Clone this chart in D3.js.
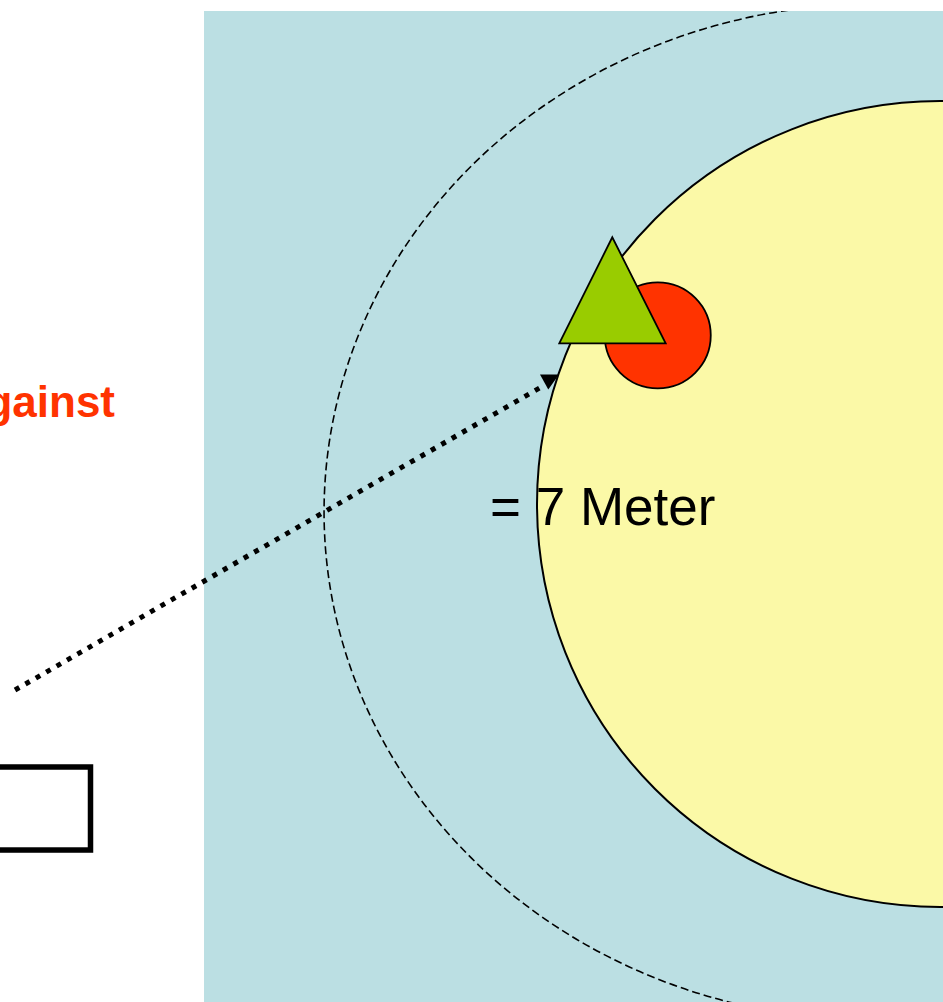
<!DOCTYPE html>
<html>
<head>
<meta charset="utf-8">
<script src="https://cdn.jsdelivr.net/npm/d3@7"></script>
<style>
  body { margin: 0; background: #fff; }
  svg { display: block; }
  text { font-family: "Liberation Sans", Arial, sans-serif; }
</style>
</head>
<body>
<div id="chart"></div>
<script>
// all geometry in meters, origin = centre of the yellow zone (radius 7 m)
const zoneArea = [{x0: -12.784, x1: 0.052, y0: -8.563, y1: 8.650}];
const zones = [
  {name: "outer", cx: -1.146, cy: 0.139, rx: 9.553, ry: 8.824},
  {name: "inner", cx: 0, cy: 0, rx: 7, ry: 7}
];
const targets = [{name: "red", cx: -4.903, cy: -2.930, r: 0.921}];
const triangle = [[-5.692, -4.633], [-6.613, -2.791], [-4.765, -2.791]];
const arrowLine = [[-16.067, 3.231], [-6.896, -2.050]];
const arrowHead = [[-6.948, -2.249], [-6.618, -2.249], [-6.804, -1.989]];
const box = [{x0: -18.065, x1: -14.756, y0: 4.568, y1: 6.010}];
const labels = [
  {text: "gainst", x: -14.330, y: -1.511, cls: "warn"},
  {text: "= 7 Meter", x: -7.816, y: 0.365, cls: "dist"}
];

const width = 943, height = 1002;
const x = d3.scaleLinear().domain([-16.328, 0]).range([0, 940]);
const y = d3.scaleLinear().domain([-8.754, 0]).range([0, 504]);
const k = x(1) - x(0); // px per meter

const svg = d3.select("#chart").append("svg")
    .attr("width", width)
    .attr("height", height);

svg.append("defs").append("clipPath")
    .attr("id", "areaClip")
  .append("rect")
    .attr("x", x(zoneArea[0].x0))
    .attr("y", y(zoneArea[0].y0))
    .attr("width", x(zoneArea[0].x1) - x(zoneArea[0].x0))
    .attr("height", y(zoneArea[0].y1) - y(zoneArea[0].y0));

  // blue background area
svg.selectAll("rect.area")
  .data(zoneArea)
  .join("rect")
    .attr("class", "area")
    .attr("x", d => x(d.x0))
    .attr("y", d => y(d.y0))
    .attr("width", d => x(d.x1) - x(d.x0))
    .attr("height", d => y(d.y1) - y(d.y0))
    .attr("fill", "#bbdfe3");

const zoneG = svg.append("g").attr("clip-path", "url(#areaClip)");

zoneG.selectAll("ellipse.zone")
  .data(zones)
  .join("ellipse")
    .attr("class", "zone")
    .attr("cx", d => x(d.cx))
    .attr("cy", d => y(d.cy))
    .attr("rx", d => d.rx * k)
    .attr("ry", d => d.ry * k)
    .attr("fill", d => d.name === "inner" ? "#fbf9a7" : "none")
    .attr("stroke", "#000")
    .attr("stroke-width", d => d.name === "inner" ? 2 : 1.6)
    .attr("stroke-dasharray", d => d.name === "outer" ? "8,4" : null);

  // distance label
svg.selectAll("text.dist")
  .data(labels.filter(d => d.cls === "dist"))
  .join("text")
    .attr("class", "dist")
    .attr("x", d => x(d.x))
    .attr("y", d => y(d.y))
    .attr("font-size", "53px")
    .attr("fill", "#000")
    .text(d => d.text);

svg.selectAll("circle.target")
  .data(targets)
  .join("circle")
    .attr("class", "target")
    .attr("cx", d => x(d.cx))
    .attr("cy", d => y(d.cy))
    .attr("r", d => d.r * k)
    .attr("fill", "#ff3300")
    .attr("stroke", "#000")
    .attr("stroke-width", 1.8);

const line = d3.line().x(d => x(d[0])).y(d => y(d[1]));

svg.append("path")
    .datum(triangle)
    .attr("d", d => line(d) + "Z")
    .attr("fill", "#99cc00")
    .attr("stroke", "#000")
    .attr("stroke-width", 1.8)
    .attr("stroke-linejoin", "miter");

  // dotted pointer
svg.append("path")
    .datum(arrowLine)
    .attr("d", line)
    .attr("fill", "none")
    .attr("stroke", "#000")
    .attr("stroke-width", 5)
    .attr("stroke-dasharray", "5,7");

svg.append("path")
    .datum(arrowHead)
    .attr("d", d => line(d) + "Z")
    .attr("fill", "#000");

svg.selectAll("rect.box")
  .data(box)
  .join("rect")
    .attr("class", "box")
    .attr("x", d => x(d.x0))
    .attr("y", d => y(d.y0))
    .attr("width", d => x(d.x1) - x(d.x0))
    .attr("height", d => y(d.y1) - y(d.y0))
    .attr("fill", "none")
    .attr("stroke", "#000")
    .attr("stroke-width", 5.5);

svg.selectAll("text.warn")
  .data(labels.filter(d => d.cls === "warn"))
  .join("text")
    .attr("class", "warn")
    .attr("x", d => x(d.x))
    .attr("y", d => y(d.y))
    .attr("text-anchor", "end")
    .attr("font-size", "44px")
    .attr("font-weight", "bold")
    .attr("fill", "#ff3300")
    .text(d => d.text);
</script>
</body>
</html>
